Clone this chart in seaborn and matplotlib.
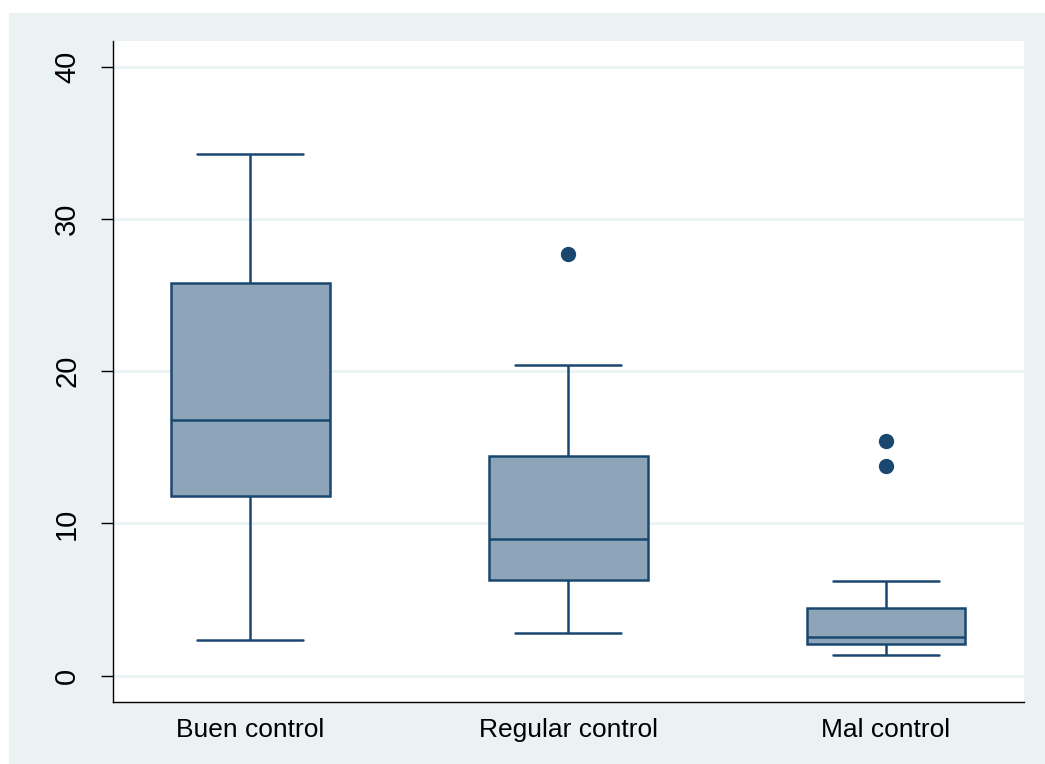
import numpy as np
import pandas as pd
import matplotlib
matplotlib.use("Agg")
import matplotlib.pyplot as plt
from matplotlib.patches import Rectangle
import seaborn as sns

# Five-number summaries per control group (lower whisker, Q1, median, Q3, upper whisker)
groups = ["Buen control", "Regular control", "Mal control"]
lower_whisker = [2.35, 2.8, 1.36]
q1 = [11.8, 6.3, 2.07]
median = [16.8, 9.0, 2.57]
q3 = [25.8, 14.45, 4.47]
upper_whisker = [34.3, 20.4, 6.2]
outliers = [[], [27.7], [13.8, 15.45]]

y_ticks = [0, 10, 20, 30, 40]

NAVY = "#1a476f"
FILL = "#8ea4b8"
PANEL = "#eaf2f3"


def sample_from_summary(lo, a, m, b, hi, outs):
    """13 ordered values whose linear quartiles sit at ranks 3, 6 and 9."""
    vals = [lo, a, a, a, m, m, m, b, b, b]
    upper = [hi] * (3 - len(outs)) + list(outs)
    return vals + upper


rows = []
for i, g in enumerate(groups):
    for v in sample_from_summary(lower_whisker[i], q1[i], median[i], q3[i],
                                 upper_whisker[i], outliers[i]):
        rows.append({"grupo": g, "valor": v})
df = pd.DataFrame(rows)

sns.set_theme(style="white")
plt.rcParams["font.family"] = ["Liberation Sans", "DejaVu Sans"]

fig = plt.figure(figsize=(10.45, 7.64), dpi=100, facecolor="white")
fig.add_artist(Rectangle((9 / 1045, 0), 1 - 9 / 1045, (764 - 13) / 764,
                         transform=fig.transFigure, facecolor=PANEL,
                         edgecolor="none", zorder=-10))
ax = fig.add_axes([113 / 1045, 62 / 764, (1024 - 113) / 1045, (702 - 41) / 764])
ax.set_facecolor("white")

lw = 1.8
line_kw = dict(color=NAVY, linewidth=lw)
sns.boxplot(data=df, x="grupo", y="valor", order=groups, ax=ax,
            width=0.5, whis=1.5, color=FILL, linewidth=lw,
            boxprops=dict(facecolor=FILL, edgecolor=NAVY, linewidth=lw),
            medianprops=line_kw, whiskerprops=line_kw, capprops=line_kw,
            flierprops=dict(marker="o", markersize=10, markerfacecolor=NAVY,
                            markeredgecolor=NAVY),
            capwidths=0.336, saturation=1)

ax.set_xlim(-0.431, 2.434)
ax.set_ylim(-1.73, 41.7)
ax.set_yticks(y_ticks)
ax.set_yticklabels([str(t) for t in y_ticks], rotation=90, va="center")
ax.yaxis.grid(True, color=PANEL, linewidth=2)
ax.set_axisbelow(True)
ax.set_xlabel("")
ax.set_ylabel("")

for side in ("top", "right"):
    ax.spines[side].set_visible(False)
for side in ("left", "bottom"):
    ax.spines[side].set_color("black")
    ax.spines[side].set_linewidth(1.0)

ax.tick_params(axis="y", left=True, length=9, width=1, color="black",
               labelsize=21, labelcolor="black", pad=14)
ax.tick_params(axis="x", bottom=False, labelsize=19, labelcolor="black", pad=5.5)

fig.savefig("out.png", dpi=100, facecolor=fig.get_facecolor())
